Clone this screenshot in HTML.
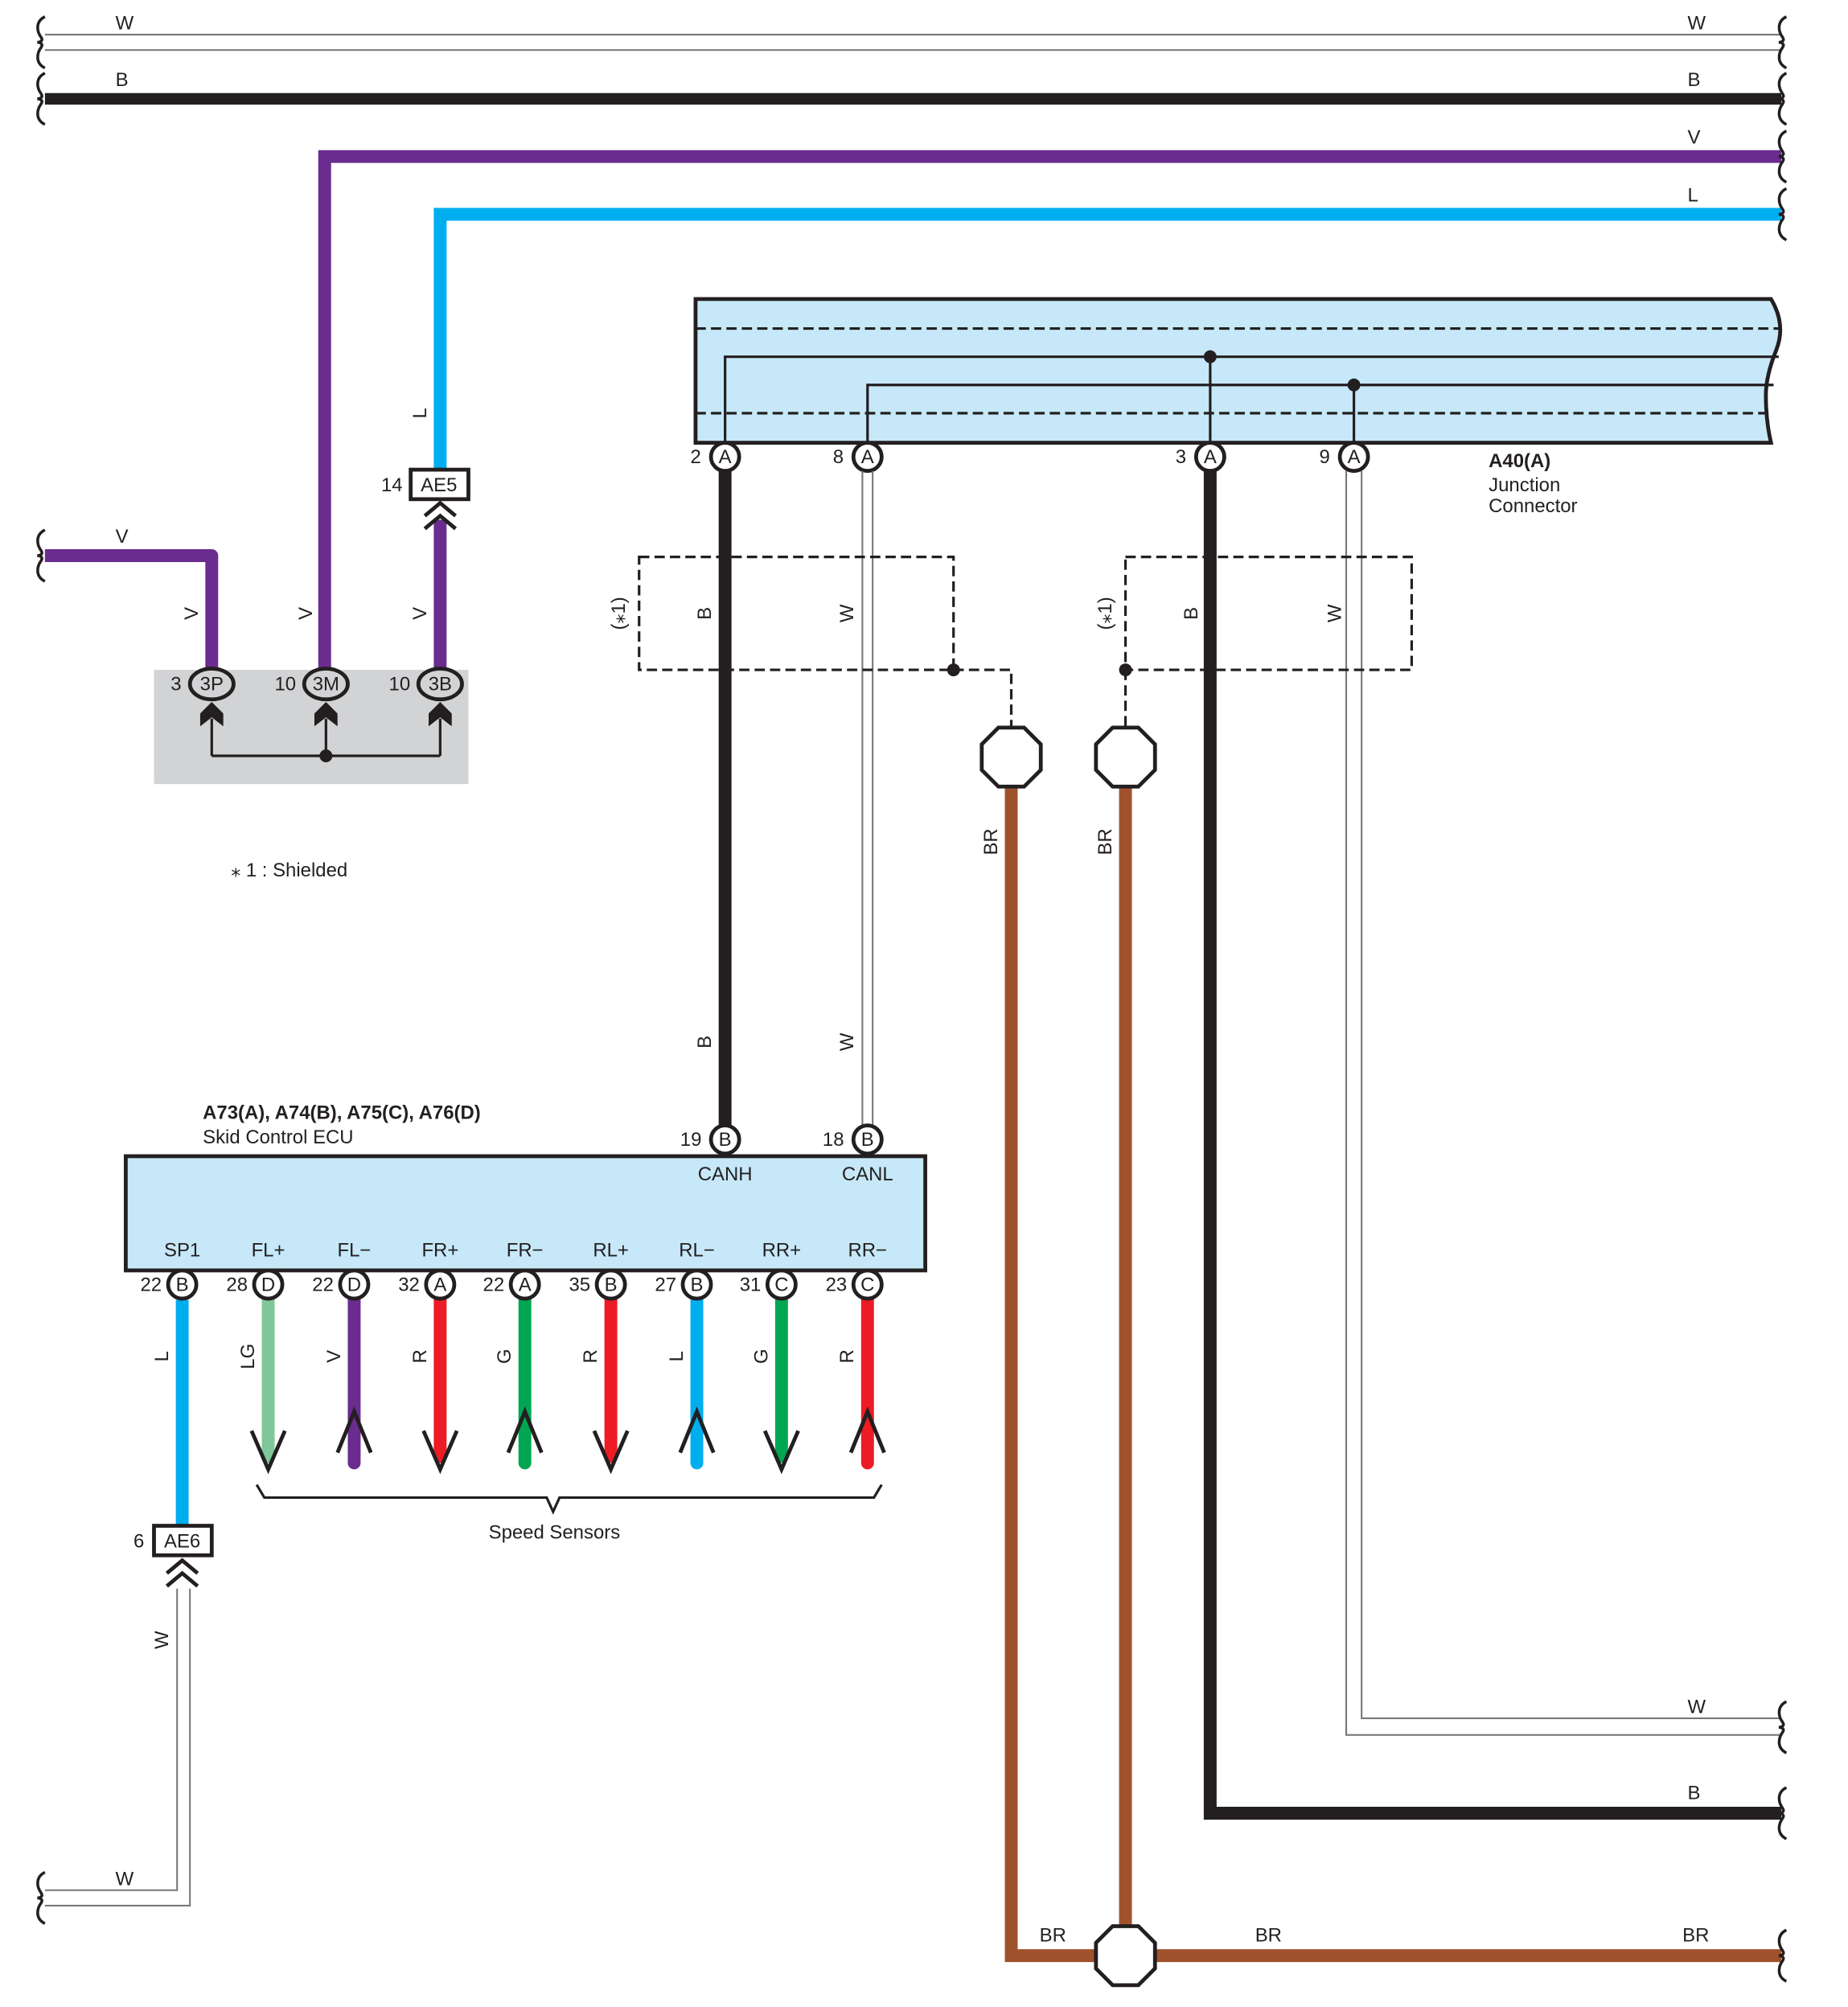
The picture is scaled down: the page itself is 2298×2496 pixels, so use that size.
<!DOCTYPE html>
<html><head><meta charset="utf-8"><style>
html,body{margin:0;padding:0;background:#fff;}
svg{display:block}
text{font-family:"Liberation Sans",sans-serif;font-size:15px;fill:#231f20}
</style></head><body>
<svg width="2298" height="2496" viewBox="0 0 1440 1564" preserveAspectRatio="none" xmlns="http://www.w3.org/2000/svg">
<defs>
<g id="wv"><path d="M2,-20 C-6,-16 -4,-8 -1,-4 C1,-1 -2,0 -4,0 C-2,0 1,1 -1,4 C-4,8 -6,16 2,20" fill="none" stroke="#231f20" stroke-width="2.2"/></g>
</defs>
<!-- top W -->
<line x1="35" y1="27" x2="1388" y2="27" stroke="#777" stroke-width="1.3"/>
<line x1="35" y1="39" x2="1388" y2="39" stroke="#777" stroke-width="1.3"/>
<use href="#wv" x="33" y="33"/><use href="#wv" x="1390" y="33"/>
<text x="90" y="23">W</text><text x="1315" y="23">W</text>
<!-- B -->
<line x1="35" y1="77" x2="1388" y2="77" stroke="#231f20" stroke-width="9"/>
<use href="#wv" x="33" y="77"/><use href="#wv" x="1390" y="77"/>
<text x="90" y="67">B</text><text x="1315" y="67">B</text>
<!-- V -->
<path d="M1388,122 H253 V525" fill="none" stroke="#6a2c8e" stroke-width="10"/>
<use href="#wv" x="1390" y="122"/><text x="1315" y="112">V</text>
<!-- L -->
<path d="M1388,167 H343 V366" fill="none" stroke="#00aeef" stroke-width="10"/>
<use href="#wv" x="1390" y="167"/><text x="1315" y="157">L</text>
<text transform="translate(332,322) rotate(-90)" text-anchor="middle">L</text>
<!-- AE5 -->
<rect x="320" y="366" width="45" height="23" fill="#fff" stroke="#231f20" stroke-width="3"/>
<text x="342" y="383" text-anchor="middle">AE5</text><text x="297" y="383">14</text>
<line x1="343" y1="405" x2="343" y2="525" stroke="#6a2c8e" stroke-width="10"/>
<path d="M331,402 L343,392 L355,402 M331,412 L343,402 L355,412" fill="none" stroke="#231f20" stroke-width="3"/>
<!-- left V -->
<path d="M35,433 H165 V525" fill="none" stroke="#6a2c8e" stroke-width="10" stroke-linejoin="round"/>
<use href="#wv" x="33" y="433"/><text x="90" y="423">V</text>
<text transform="translate(154,478) rotate(-90)" text-anchor="middle">V</text>
<text transform="translate(243,478) rotate(-90)" text-anchor="middle">V</text>
<text transform="translate(332,478) rotate(-90)" text-anchor="middle">V</text>
<!-- gray block -->
<rect x="120" y="522" width="245" height="89" fill="#d1d3d4"/>
<g stroke="#231f20" stroke-width="3" fill="#d1d3d4">
<ellipse cx="165" cy="533" rx="17" ry="12"/><ellipse cx="254" cy="533" rx="17" ry="12"/><ellipse cx="343" cy="533" rx="17" ry="12"/>
</g>
<text x="165" y="538" text-anchor="middle">3P</text><text x="254" y="538" text-anchor="middle">3M</text><text x="343" y="538" text-anchor="middle">3B</text>
<text x="133" y="538">3</text><text x="214" y="538">10</text><text x="303" y="538">10</text>
<path d="M165,589 V560 M254,589 V560 M343,589 V560 M165,589 H343" fill="none" stroke="#231f20" stroke-width="2"/>
<circle cx="254" cy="589" r="5" fill="#231f20"/>
<g fill="#231f20">
<path d="M165,547 L174,556 V566 L165,559 L156,566 V556Z"/>
<path d="M254,547 L263,556 V566 L254,559 L245,566 V556Z"/>
<path d="M343,547 L352,556 V566 L343,559 L334,566 V556Z"/>
</g>
<text x="180" y="683" style="font-size:15px">⁎ 1 : Shielded</text>
<!-- Junction connector -->
<path d="M542,233 H1380 q12,20 4,40 q-8,20 -8,35 q0,20 4,37 H542Z" fill="#c6e8f8" stroke="#231f20" stroke-width="3"/>
<line x1="542" y1="256" x2="1388" y2="256" stroke="#231f20" stroke-width="2" stroke-dasharray="8,4"/>
<line x1="542" y1="322" x2="1382" y2="322" stroke="#231f20" stroke-width="2" stroke-dasharray="8,4"/>
<path d="M565,345 V278 H1386 M676,345 V300 H1382 M943,278 V345 M1055,300 V345" fill="none" stroke="#231f20" stroke-width="2"/>
<circle cx="943" cy="278" r="5" fill="#231f20"/><circle cx="1055" cy="300" r="5" fill="#231f20"/>
<g stroke="#231f20" stroke-width="3" fill="#fff">
<circle cx="565" cy="356" r="11"/><circle cx="676" cy="356" r="11"/><circle cx="943" cy="356" r="11"/><circle cx="1055" cy="356" r="11"/>
</g>
<g text-anchor="middle"><text x="565" y="361">A</text><text x="676" y="361">A</text><text x="943" y="361">A</text><text x="1055" y="361">A</text></g>
<text x="538" y="361">2</text><text x="649" y="361">8</text><text x="916" y="361">3</text><text x="1028" y="361">9</text>
<text x="1160" y="364" style="font-weight:bold">A40(A)</text>
<text x="1160" y="383">Junction</text><text x="1160" y="399">Connector</text>
<!-- CAN wires -->
<line x1="565" y1="367" x2="565" y2="877" stroke="#231f20" stroke-width="10"/>
<line x1="672" y1="367" x2="672" y2="877" stroke="#777" stroke-width="1.3"/>
<line x1="680" y1="367" x2="680" y2="877" stroke="#777" stroke-width="1.3"/>
<path d="M943,367 V1413 H1388" fill="none" stroke="#231f20" stroke-width="10"/>
<path d="M1049,367 V1352 H1388 M1061,367 V1339 H1388" fill="none" stroke="#777" stroke-width="1.3"/>
<use href="#wv" x="1390" y="1346"/><use href="#wv" x="1390" y="1413"/>
<text x="1315" y="1335">W</text><text x="1315" y="1402">B</text>
<!-- shields -->
<rect x="498" y="434" width="245" height="88" fill="none" stroke="#231f20" stroke-width="2" stroke-dasharray="8,4"/>
<rect x="877" y="434" width="223" height="88" fill="none" stroke="#231f20" stroke-width="2" stroke-dasharray="8,4"/>
<path d="M743,522 H788 V566 M877,522 V566" fill="none" stroke="#231f20" stroke-width="2" stroke-dasharray="8,4"/>
<circle cx="743" cy="522" r="5" fill="#231f20"/><circle cx="877" cy="522" r="5" fill="#231f20"/>
<text transform="translate(487,478) rotate(-90)" text-anchor="middle">(⁎1)</text>
<text transform="translate(866,478) rotate(-90)" text-anchor="middle">(⁎1)</text>
<text transform="translate(554,478) rotate(-90)" text-anchor="middle">B</text>
<text transform="translate(665,478) rotate(-90)" text-anchor="middle">W</text>
<text transform="translate(933,478) rotate(-90)" text-anchor="middle">B</text>
<text transform="translate(1045,478) rotate(-90)" text-anchor="middle">W</text>
<text transform="translate(554,812) rotate(-90)" text-anchor="middle">B</text>
<text transform="translate(665,812) rotate(-90)" text-anchor="middle">W</text>
<!-- brown -->
<path d="M788,612 V1524 H860 M877,612 V1502 M900,1524 H1388" fill="none" stroke="#a0522d" stroke-width="10"/>
<use href="#wv" x="1390" y="1524"/>
<g fill="#fff" stroke="#231f20" stroke-width="3">
<polygon points="778,567 798,567 811,580 811,600 798,613 778,613 765,600 765,580"/>
<polygon points="867,567 887,567 900,580 900,600 887,613 867,613 854,600 854,580"/>
<polygon points="867,1501 887,1501 900,1514 900,1534 887,1547 867,1547 854,1534 854,1514"/>
</g>
<text transform="translate(777,656) rotate(-90)" text-anchor="middle">BR</text>
<text transform="translate(866,656) rotate(-90)" text-anchor="middle">BR</text>
<text x="810" y="1513">BR</text><text x="978" y="1513">BR</text><text x="1311" y="1513">BR</text>
<!-- ECU -->
<text x="158" y="872" style="font-weight:bold">A73(A), A74(B), A75(C), A76(D)</text>
<text x="158" y="891">Skid Control ECU</text>
<rect x="98" y="901" width="623" height="89" fill="#c6e8f8" stroke="#231f20" stroke-width="3"/>
<g stroke="#231f20" stroke-width="3" fill="#fff"><circle cx="565" cy="888" r="11"/><circle cx="676" cy="888" r="11"/></g>
<text x="565" y="893" text-anchor="middle">B</text><text x="676" y="893" text-anchor="middle">B</text>
<text x="530" y="893">19</text><text x="641" y="893">18</text>
<text x="565" y="920" text-anchor="middle">CANH</text><text x="676" y="920" text-anchor="middle">CANL</text>
<!-- L to AE6 -->
<line x1="142" y1="1013" x2="142" y2="1190" stroke="#00aeef" stroke-width="10"/>
<!-- sensor wires -->
<g stroke-width="10" stroke-linecap="round">
<line x1="209" y1="1013" x2="209" y2="1135" stroke="#7fc79a"/>
<line x1="276" y1="1013" x2="276" y2="1140" stroke="#6a2c8e"/>
<line x1="343" y1="1013" x2="343" y2="1135" stroke="#ed1c24"/>
<line x1="409" y1="1013" x2="409" y2="1140" stroke="#00a651"/>
<line x1="476" y1="1013" x2="476" y2="1135" stroke="#ed1c24"/>
<line x1="543" y1="1013" x2="543" y2="1140" stroke="#00aeef"/>
<line x1="609" y1="1013" x2="609" y2="1135" stroke="#00a651"/>
<line x1="676" y1="1013" x2="676" y2="1140" stroke="#ed1c24"/>
</g>
<g fill="none" stroke="#231f20" stroke-width="3">
<path d="M196,1115 L209,1145 L222,1115"/>
<path d="M330,1115 L343,1145 L356,1115"/>
<path d="M463,1115 L476,1145 L489,1115"/>
<path d="M596,1115 L609,1145 L622,1115"/>
<path d="M263,1132 L276,1100 L289,1132"/>
<path d="M396,1132 L409,1100 L422,1132"/>
<path d="M530,1132 L543,1100 L556,1132"/>
<path d="M663,1132 L676,1100 L689,1132"/>
<path d="M200,1157 L206,1167 H426 L431,1178 L436,1167 H681 L687,1157" stroke-width="2"/>
</g>
<text x="432" y="1199" text-anchor="middle">Speed Sensors</text>
<g text-anchor="middle">
<text x="142" y="979">SP1</text><text x="209" y="979">FL+</text><text x="276" y="979">FL−</text><text x="343" y="979">FR+</text><text x="409" y="979">FR−</text><text x="476" y="979">RL+</text><text x="543" y="979">RL−</text><text x="609" y="979">RR+</text><text x="676" y="979">RR−</text>
</g>
<g stroke="#231f20" stroke-width="3" fill="#fff">
<circle cx="142" cy="1001" r="11"/><circle cx="209" cy="1001" r="11"/><circle cx="276" cy="1001" r="11"/><circle cx="343" cy="1001" r="11"/><circle cx="409" cy="1001" r="11"/><circle cx="476" cy="1001" r="11"/><circle cx="543" cy="1001" r="11"/><circle cx="609" cy="1001" r="11"/><circle cx="676" cy="1001" r="11"/>
</g>
<g text-anchor="middle">
<text x="142" y="1006">B</text><text x="209" y="1006">D</text><text x="276" y="1006">D</text><text x="343" y="1006">A</text><text x="409" y="1006">A</text><text x="476" y="1006">B</text><text x="543" y="1006">B</text><text x="609" y="1006">C</text><text x="676" y="1006">C</text>
</g>
<g text-anchor="end">
<text x="126" y="1006">22</text><text x="193" y="1006">28</text><text x="260" y="1006">22</text><text x="327" y="1006">32</text><text x="393" y="1006">22</text><text x="460" y="1006">35</text><text x="527" y="1006">27</text><text x="593" y="1006">31</text><text x="660" y="1006">23</text>
</g>
<g text-anchor="middle">
<text transform="translate(131,1057) rotate(-90)">L</text>
<text transform="translate(198,1057) rotate(-90)">LG</text>
<text transform="translate(265,1057) rotate(-90)">V</text>
<text transform="translate(332,1057) rotate(-90)">R</text>
<text transform="translate(398,1057) rotate(-90)">G</text>
<text transform="translate(465,1057) rotate(-90)">R</text>
<text transform="translate(532,1057) rotate(-90)">L</text>
<text transform="translate(598,1057) rotate(-90)">G</text>
<text transform="translate(665,1057) rotate(-90)">R</text>
</g>
<!-- AE6 -->
<rect x="120" y="1189" width="45" height="23" fill="#fff" stroke="#231f20" stroke-width="3"/>
<text x="142" y="1206" text-anchor="middle">AE6</text><text x="104" y="1206">6</text>
<path d="M130,1226 L142,1216 L154,1226 M130,1236 L142,1226 L154,1236" fill="none" stroke="#231f20" stroke-width="3"/>
<path d="M138,1238 V1473 H35 M148,1238 V1485 H35" fill="none" stroke="#777" stroke-width="1.3"/>
<use href="#wv" x="33" y="1479"/>
<text transform="translate(131,1278) rotate(-90)" text-anchor="middle">W</text>
<text x="90" y="1469">W</text>
</svg>
</body></html>
